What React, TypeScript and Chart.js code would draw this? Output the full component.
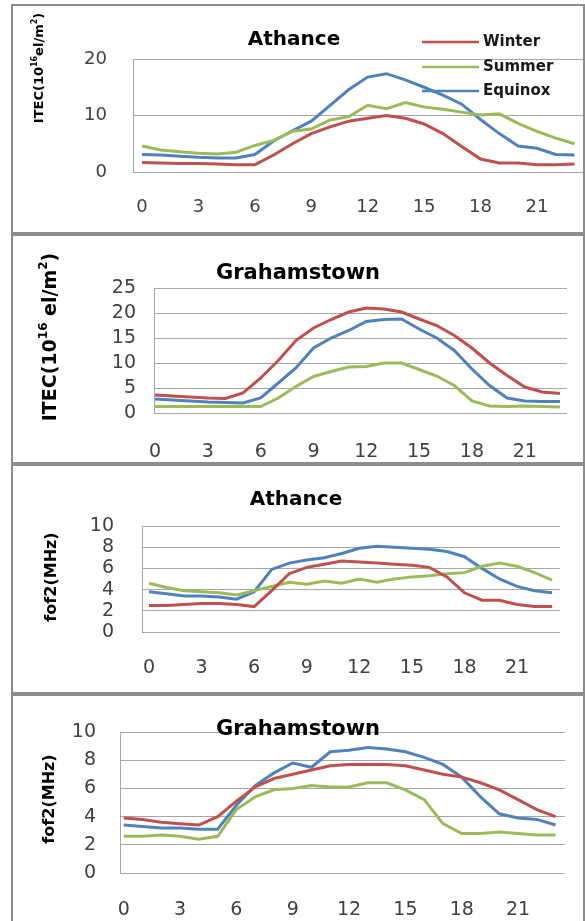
import React, { useEffect, useRef } from "react";
import { Chart, registerables } from "chart.js";

Chart.register(...registerables);

// ---------- data ----------
const hours = [0, 1, 2, 3, 4, 5, 6, 7, 8, 9, 10, 11, 12, 13, 14, 15, 16, 17, 18, 19, 20, 21, 22, 23];
const xTickLabels = ["0", "3", "6", "9", "12", "15", "18", "21"];
const seriesNames = ["Winter", "Summer", "Equinox"];
const seriesColors = ["#c0504d", "#9bbb59", "#4f81bd"];

// ITEC Athance
const itecAthanceWinter = [1.7, 1.6, 1.5, 1.5, 1.4, 1.3, 1.3, 3.0, 5.0, 6.8, 8.0, 9.0, 9.5, 10.0, 9.5, 8.5, 6.8, 4.5, 2.3, 1.6, 1.6, 1.3, 1.3, 1.4];
const itecAthanceSummer = [4.6, 3.9, 3.6, 3.3, 3.2, 3.5, 4.7, 5.6, 7.2, 7.6, 9.2, 9.8, 11.8, 11.2, 12.3, 11.5, 11.1, 10.6, 10.1, 10.3, 8.6, 7.2, 6.0, 5.0];
const itecAthanceEquinox = [3.1, 3.0, 2.8, 2.6, 2.5, 2.5, 3.1, 5.5, 7.3, 9.0, 11.8, 14.6, 16.8, 17.4, 16.3, 15.0, 13.6, 12.0, 9.3, 6.8, 4.6, 4.2, 3.1, 3.0];

// ITEC Grahamstown
const itecGrahamWinter = [3.6, 3.4, 3.2, 3.0, 2.9, 4.0, 7.0, 10.5, 14.5, 17.0, 18.7, 20.2, 21.0, 20.8, 20.2, 18.8, 17.5, 15.5, 13.0, 10.0, 7.5, 5.2, 4.2, 3.9];
const itecGrahamSummer = [1.3, 1.3, 1.3, 1.3, 1.3, 1.3, 1.3, 3.0, 5.3, 7.3, 8.3, 9.2, 9.3, 10.0, 10.0, 8.7, 7.4, 5.5, 2.4, 1.4, 1.3, 1.4, 1.3, 1.2];
const itecGrahamEquinox = [2.8, 2.6, 2.4, 2.2, 2.1, 2.0, 3.0, 6.0, 9.0, 13.0, 15.0, 16.5, 18.3, 18.7, 18.8, 16.8, 15.0, 12.5, 8.8, 5.5, 3.0, 2.4, 2.3, 2.3];

// foF2 Athance
const fof2AthanceWinter = [2.5, 2.5, 2.6, 2.7, 2.7, 2.6, 2.4, 3.9, 5.5, 6.1, 6.4, 6.7, 6.6, 6.5, 6.4, 6.3, 6.1, 5.2, 3.7, 3.0, 3.0, 2.6, 2.4, 2.4];
const fof2AthanceSummer = [4.6, 4.2, 3.9, 3.8, 3.7, 3.5, 3.9, 4.3, 4.7, 4.5, 4.8, 4.6, 5.0, 4.7, 5.0, 5.2, 5.3, 5.5, 5.6, 6.2, 6.5, 6.2, 5.6, 4.9];
const fof2AthanceEquinox = [3.8, 3.6, 3.4, 3.4, 3.3, 3.1, 3.8, 5.9, 6.5, 6.8, 7.0, 7.4, 7.9, 8.1, 8.0, 7.9, 7.8, 7.6, 7.1, 6.0, 5.0, 4.3, 3.9, 3.7];

// foF2 Grahamstown
const fof2GrahamWinter = [3.9, 3.8, 3.6, 3.5, 3.4, 4.0, 5.1, 6.1, 6.7, 7.0, 7.3, 7.6, 7.7, 7.7, 7.7, 7.6, 7.3, 7.0, 6.8, 6.4, 5.9, 5.2, 4.5, 4.0];
const fof2GrahamSummer = [2.6, 2.6, 2.7, 2.6, 2.4, 2.6, 4.5, 5.4, 5.9, 6.0, 6.2, 6.1, 6.1, 6.4, 6.4, 5.9, 5.2, 3.5, 2.8, 2.8, 2.9, 2.8, 2.7, 2.7];
const fof2GrahamEquinox = [3.4, 3.3, 3.2, 3.2, 3.1, 3.1, 4.8, 6.2, 7.1, 7.8, 7.5, 8.6, 8.7, 8.9, 8.8, 8.6, 8.2, 7.7, 6.8, 5.4, 4.2, 3.9, 3.8, 3.4];

type Seg = { t: string; sup?: boolean };
const itecTitle1: Seg[] = [{ t: "ITEC(10" }, { t: "16", sup: true }, { t: "el/m" }, { t: "2", sup: true }, { t: ")" }];
const itecTitle2: Seg[] = [{ t: "ITEC(10" }, { t: "16", sup: true }, { t: " el/m" }, { t: "2", sup: true }, { t: ")" }];
const fof2Title: Seg[] = [{ t: "fof2(MHz)" }];

// ---------- layout / style ----------
const FONT = "'DejaVu Sans'";
const CANVAS_W = 570;
const CANVAS_H = 226;

type PanelCfg = {
  top: number;
  title: string;
  titleX: number; titleY: number; titleSize: number;
  yTitle: Seg[]; yTitleX: number; yTitleY: number; yTitleSize: number;
  yMax: number; yStep: number;
  xMin: number; xMax: number;
  area: { l: number; r: number; t: number; b: number };
  tickSize: number; yPad: number; xLabelY: number;
  series: number[][];
  legend: boolean;
};

const panels: PanelCfg[] = [
  {
    top: 4, title: "Athance", titleX: 294, titleY: 40, titleSize: 20,
    yTitle: itecTitle1, yTitleX: 40, yTitleY: 68, yTitleSize: 13,
    yMax: 20, yStep: 10, xMin: -0.48, xMax: 23.45,
    area: { l: 133, r: 583, t: 59, b: 172 }, tickSize: 18, yPad: 26, xLabelY: 207,
    series: [itecAthanceWinter, itecAthanceSummer, itecAthanceEquinox], legend: true,
  },
  {
    top: 234, title: "Grahamstown", titleX: 298, titleY: 274, titleSize: 21,
    yTitle: itecTitle2, yTitleX: 51, yTitleY: 337, yTitleSize: 19,
    yMax: 25, yStep: 5, xMin: -0.06, xMax: 23.4,
    area: { l: 154, r: 567, t: 288, b: 413 }, tickSize: 19, yPad: 18, xLabelY: 452,
    series: [itecGrahamWinter, itecGrahamSummer, itecGrahamEquinox], legend: false,
  },
  {
    top: 464, title: "Athance", titleX: 296, titleY: 500, titleSize: 20,
    yTitle: fof2Title, yTitleX: 52, yTitleY: 577, yTitleSize: 16,
    yMax: 10, yStep: 2, xMin: -0.4, xMax: 23.45,
    area: { l: 142, r: 560, t: 526, b: 632 }, tickSize: 19, yPad: 28, xLabelY: 668,
    series: [fof2AthanceWinter, fof2AthanceSummer, fof2AthanceEquinox], legend: false,
  },
  {
    top: 694, title: "Grahamstown", titleX: 298, titleY: 730, titleSize: 21,
    yTitle: fof2Title, yTitleX: 50, yTitleY: 799, yTitleSize: 16,
    yMax: 10, yStep: 2, xMin: -0.2, xMax: 23.5,
    area: { l: 120, r: 565, t: 732, b: 873 }, tickSize: 19, yPad: 24, xLabelY: 910,
    series: [fof2GrahamWinter, fof2GrahamSummer, fof2GrahamEquinox], legend: false,
  },
];

const legendLayout = { x1: 422, x2: 479, textX: 483, ys: [42, 67, 91], size: 15 };

function drawRich(
  ctx: CanvasRenderingContext2D, segs: Seg[], x: number, y: number,
  size: number, weight: string, color: string, rotate: boolean
) {
  ctx.save();
  ctx.translate(x, y);
  if (rotate) ctx.rotate(-Math.PI / 2);
  const supSize = Math.round(size * 0.62);
  const fMain = `${weight} ${size}px ${FONT}`;
  const fSup = `${weight} ${supSize}px ${FONT}`;
  let total = 0;
  const widths = segs.map((s) => {
    ctx.font = s.sup ? fSup : fMain;
    const w = ctx.measureText(s.t).width;
    total += w;
    return w;
  });
  let cx = -total / 2;
  ctx.fillStyle = color;
  ctx.textBaseline = "middle";
  ctx.textAlign = "left";
  segs.forEach((s, i) => {
    ctx.font = s.sup ? fSup : fMain;
    ctx.fillText(s.t, cx, s.sup ? -size * 0.38 : 0);
    cx += widths[i];
  });
  ctx.restore();
}

function Panel({ cfg }: { cfg: PanelCfg }) {
  const ref = useRef<HTMLCanvasElement>(null);
  useEffect(() => {
    const canvas = ref.current;
    if (!canvas) return;
    const ox = 13;
    const oy = cfg.top + 2;
    const padTop = cfg.area.t - oy;
    const yWidth = cfg.area.l - ox;
    const padRight = ox + CANVAS_W - cfg.area.r;
    const xHeight = oy + CANVAS_H - cfg.area.b;
    const lineH = cfg.tickSize * 1.2;
    const tickGap = Math.max(0, cfg.xLabelY - cfg.area.b - lineH / 2);

    const textPlugin = {
      id: "panelText",
      afterDraw(chart: any) {
        const ctx: CanvasRenderingContext2D = chart.ctx;
        drawRich(ctx, [{ t: cfg.title }], cfg.titleX - ox, cfg.titleY - oy, cfg.titleSize, "bold", "#000", false);
        drawRich(ctx, cfg.yTitle, cfg.yTitleX - ox, cfg.yTitleY - oy, cfg.yTitleSize, "bold", "#000", true);
        if (cfg.legend) {
          chart.data.datasets.forEach((ds: any, i: number) => {
            const y = legendLayout.ys[i] - oy;
            ctx.save();
            ctx.strokeStyle = ds.borderColor;
            ctx.lineWidth = 2.5;
            ctx.beginPath();
            ctx.moveTo(legendLayout.x1 - ox, y);
            ctx.lineTo(legendLayout.x2 - ox, y);
            ctx.stroke();
            ctx.fillStyle = "#1a1a1a";
            ctx.font = `bold ${legendLayout.size}px ${FONT}`;
            ctx.textBaseline = "middle";
            ctx.textAlign = "left";
            ctx.fillText(ds.label, legendLayout.textX - ox, y);
            ctx.restore();
          });
        }
      },
    };

    const chart = new Chart(canvas, {
      type: "line",
      data: {
        datasets: seriesNames.map((name, k) => ({
          label: name,
          data: hours.map((h, i) => ({ x: h, y: cfg.series[k][i] })),
          borderColor: seriesColors[k],
          backgroundColor: seriesColors[k],
          borderWidth: 3,
          pointRadius: 0,
          tension: 0,
          fill: false,
        })),
      },
      options: {
        responsive: false,
        animation: false,
        devicePixelRatio: 1,
        layout: { padding: { left: 0, right: padRight, top: padTop, bottom: 0 } },
        plugins: {
          legend: { display: false },
          title: { display: false },
          tooltip: { enabled: false },
        },
        scales: {
          x: {
            type: "linear",
            position: "bottom",
            min: cfg.xMin,
            max: cfg.xMax,
            afterFit: (s: any) => { s.height = xHeight; },
            grid: { display: false, drawTicks: true, tickLength: tickGap, tickColor: "rgba(0,0,0,0)" },
            border: { display: false },
            ticks: {
              stepSize: 3,
              includeBounds: false,
              autoSkip: false,
              maxRotation: 0,
              minRotation: 0,
              padding: 0,
              color: "#404040",
              font: { family: FONT, size: cfg.tickSize, lineHeight: 1.2 },
              callback: (v: any) => {
                const idx = Number(v) / 3;
                return Number.isInteger(idx) && xTickLabels[idx] !== undefined ? xTickLabels[idx] : "";
              },
            },
          },
          y: {
            min: 0,
            max: cfg.yMax,
            afterFit: (s: any) => { s.width = yWidth; },
            grid: { color: "#a6a6a6", lineWidth: 1, drawTicks: false },
            border: { display: true, color: "#a6a6a6", width: 1 },
            ticks: {
              stepSize: cfg.yStep,
              autoSkip: false,
              padding: cfg.yPad,
              color: "#404040",
              font: { family: FONT, size: cfg.tickSize, lineHeight: 1.2 },
            },
          },
        },
      },
      plugins: [textPlugin],
    } as any);
    return () => chart.destroy();
  }, [cfg]);

  return (
    <div
      style={{
        position: "absolute",
        left: 11,
        top: cfg.top,
        width: 574,
        height: 230,
        border: "2px solid #8c8c8c",
        boxSizing: "border-box",
        background: "#fff",
      }}
    >
      <canvas ref={ref} width={CANVAS_W} height={CANVAS_H} style={{ display: "block", width: CANVAS_W, height: CANVAS_H }} />
    </div>
  );
}

export default function App() {
  return (
    <div style={{ position: "absolute", left: 0, top: 0, width: 585, height: 921, overflow: "hidden", background: "#fff" }}>
      {panels.map((p, i) => (
        <Panel key={i} cfg={p} />
      ))}
    </div>
  );
}
